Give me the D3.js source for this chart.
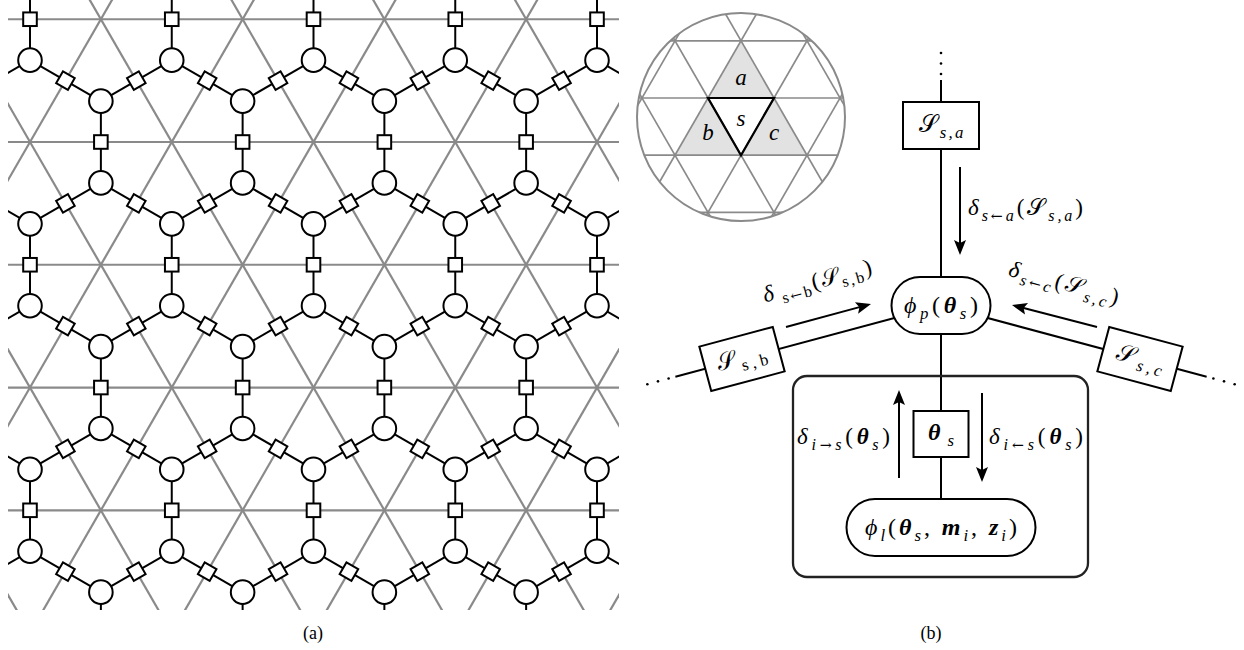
<!DOCTYPE html>
<html>
<head>
<meta charset="utf-8">
<script src="https://cdn.jsdelivr.net/npm/d3@7"></script>
<style>
  html, body { margin: 0; padding: 0; background: #fff; }
  svg { display: block; }
  text { font-family: "Liberation Serif", "DejaVu Serif", serif; fill: #000; }
</style>
</head>
<body>
<script>
// ---- data -------------------------------------------------------------
// (a) triangular lattice: row / column indices of the lattice points
const latticeRows = d3.range(-3, 7);
const latticeCols = d3.range(-7, 9);
// (b) inset: shaded neighbour faces and the central face
const neighbourFaces = ["a", "b", "c"];
const centreFace = "s";
// panel captions
const panelCaptions = ["(a)", "(b)"];
// math labels: [text, flags]  i = italic, b = bold, s = subscript, a = arrow glyph
const labelSa   = [["\u{1D4AE}", ""], ["s,a", "is"]];
const labelSb   = [["\u{1D4AE}", ""], ["s,b", "s"]];
const labelSc   = [["\u{1D4AE}", ""], ["s,c", "is"]];
const labelPhiP = [["\u03D5", "i"], ["p", "is"], ["(", ""], ["\u03B8", "ib"], ["s", "is"], [")", ""]];
const labelTheta = [["\u03B8", "ib"], ["s", "is"]];
const labelPhiL = [["\u03D5", "i"], ["l", "is"], ["(", ""], ["\u03B8", "ib"], ["s", "is"], [", ", ""],
                   ["m", "ib"], ["i", "is"], [", ", ""], ["z", "ib"], ["i", "is"], [")", ""]];
const msgA = [["\u03B4", "i"], ["s", "is"], ["\u2190", "sa"], ["a", "is"], ["(", ""], ["\u{1D4AE}", ""], ["s,a", "is"], [")", ""]];
const msgB = [["\u03B4", "i"], ["\u2009s", "s"], ["\u2190", "sa"], ["b", "s"], ["(", ""], ["\u{1D4AE}", ""], ["s,b", "s"], [")", ""]];
const msgC = [["\u03B4", "i"], ["s", "is"], ["\u2190", "sa"], ["c", "is"], ["(", ""], ["\u{1D4AE}", ""], ["s,c", "is"], [")", ""]];
const msgUp   = [["\u03B4", "i"], ["i", "is"], ["\u2192", "sa"], ["s", "is"], ["(", ""], ["\u03B8", "ib"], ["s", "is"], [")", ""]];
const msgDown = [["\u03B4", "i"], ["i", "is"], ["\u2190", "sa"], ["s", "is"], ["(", ""], ["\u03B8", "ib"], ["s", "is"], [")", ""]];

// ---- helpers ----------------------------------------------------------
const GRAY = "#8a8a8a";
const svg = d3.select("body").append("svg").attr("width", 1244).attr("height", 650);
const defs = svg.append("defs");

// writes a formula as tspans; `width` stretches it to a set run length
function mathText(g, parts, size, anchor, width) {
  const t = g.append("text").attr("text-anchor", anchor || "middle").style("font-size", size + "px");
  let shift = 0;
  parts.forEach(([str, flags]) => {
    const sub = flags.includes("s");
    const target = sub ? size * 0.25 : 0;
    const ts = t.append("tspan").text(str)
      .attr("dy", (target - shift).toFixed(2))
      .style("font-size", (sub ? size * 0.7 : size) + "px")
      .style("font-style", flags.includes("i") ? "italic" : "normal")
      .style("font-weight", flags.includes("b") ? "bold" : "normal");
    if (flags.includes("a")) ts.style("font-family", "'DejaVu Serif'").style("font-size", (size * 0.62) + "px");
    shift = target;
  });
  if (width) t.attr("textLength", width).attr("lengthAdjust", "spacing");
  return t;
}

function arrow(g, x0, y0, x1, y1) {
  const dx = x1 - x0, dy = y1 - y0, len = Math.hypot(dx, dy);
  const ux = dx / len, uy = dy / len, px = -uy, py = ux;
  const L = 15, W = 6;
  g.append("line").attr("x1", x0).attr("y1", y0)
    .attr("x2", x1 - ux * 10).attr("y2", y1 - uy * 10)
    .attr("stroke", "#000").attr("stroke-width", 2);
  const p = [
    [x1, y1],
    [x1 - ux * L + px * W, y1 - uy * L + py * W],
    [x1 - ux * (L - 3), y1 - uy * (L - 3)],
    [x1 - ux * L - px * W, y1 - uy * L - py * W]
  ];
  g.append("path").attr("d", "M" + p.map(q => q.join(",")).join("L") + "Z").attr("fill", "#000");
}

// ---- panel (a): honeycomb factor graph on a triangular lattice -------
const ax = d3.scaleLinear().domain([0, 4]).range([30, 597]);
const ay = d3.scaleLinear().domain([0, 3]).range([142, 510.3]);
defs.append("clipPath").attr("id", "clipA").append("rect")
  .attr("x", 8).attr("y", 0).attr("width", 611).attr("height", 610);
const gA = svg.append("g").attr("clip-path", "url(#clipA)");

const jMin = d3.min(latticeRows), jMax = d3.max(latticeRows);
const grayA = gA.append("g").attr("stroke", GRAY).attr("stroke-width", 2.2);
latticeRows.forEach(j => grayA.append("line")
  .attr("x1", ax(-2)).attr("x2", ax(6)).attr("y1", ay(j)).attr("y2", ay(j)));
d3.range(-10, 14).forEach(i => {
  grayA.append("line").attr("x1", ax(i + jMin / 2)).attr("y1", ay(jMin))
    .attr("x2", ax(i + jMax / 2)).attr("y2", ay(jMax));
  grayA.append("line").attr("x1", ax(i - jMin / 2)).attr("y1", ay(jMin))
    .attr("x2", ax(i - jMax / 2)).attr("y2", ay(jMax));
});

const centroids = [], edges = [];
latticeRows.forEach(j => latticeCols.forEach(i => {
  const down = [i + j / 2 + 0.5, j + 1 / 3];
  const up = [i + j / 2 + 1, j + 2 / 3];
  const upAbove = [i + j / 2 + 0.5, j - 1 / 3];
  const downRight = [i + j / 2 + 1.5, j + 1 / 3];
  centroids.push(down, up);
  edges.push([down, upAbove], [down, up], [up, downRight]);
}));
const px = q => [ax(q[0]), ay(q[1])];

const blackA = gA.append("g");
edges.forEach(([a, b]) => {
  const [x1, y1] = px(a), [x2, y2] = px(b);
  blackA.append("line").attr("x1", x1).attr("y1", y1).attr("x2", x2).attr("y2", y2)
    .attr("stroke", "#000").attr("stroke-width", 2);
});
edges.forEach(([a, b]) => {
  const [x1, y1] = px(a), [x2, y2] = px(b);
  const ang = Math.atan2(y2 - y1, x2 - x1) * 180 / Math.PI;
  blackA.append("rect").attr("x", -6.8).attr("y", -6.8).attr("width", 13.6).attr("height", 13.6)
    .attr("transform", `translate(${(x1 + x2) / 2},${(y1 + y2) / 2}) rotate(${ang})`)
    .attr("fill", "#fff").attr("stroke", "#000").attr("stroke-width", 2);
});
centroids.forEach(c => {
  const [x, y] = px(c);
  blackA.append("circle").attr("cx", x).attr("cy", y).attr("r", 11.8)
    .attr("fill", "#fff").attr("stroke", "#000").attr("stroke-width", 2);
});

// ---- panel (b) inset: neighbourhood of face s -------------------------
const bx = d3.scaleLinear().domain([0, 1]).range([708, 774]);
const by = d3.scaleLinear().domain([0, 1]).range([98, 155.2]);
const ip = (i, j) => [bx(i + j / 2), by(j)];
const faceTri = {
  s: [ip(0, 0), ip(1, 0), ip(0, 1)],
  a: [ip(0, 0), ip(1, 0), ip(1, -1)],
  b: [ip(-1, 1), ip(0, 1), ip(0, 0)],
  c: [ip(0, 1), ip(1, 1), ip(1, 0)]
};
const cen = tri => [d3.mean(tri, p => p[0]), d3.mean(tri, p => p[1])];
const [icx, icy] = cen(faceTri[centreFace]);
const R = 104;
defs.append("clipPath").attr("id", "clipInset").append("circle").attr("cx", icx).attr("cy", icy).attr("r", R);
const gI = svg.append("g").attr("clip-path", "url(#clipInset)");
neighbourFaces.forEach(f => gI.append("path")
  .attr("d", "M" + faceTri[f].map(p => p.join(",")).join("L") + "Z").attr("fill", "#e2e2e2"));
const gIl = gI.append("g").attr("stroke", GRAY).attr("stroke-width", 1.7);
d3.range(-3, 4).forEach(j => gIl.append("line")
  .attr("x1", bx(-5)).attr("x2", bx(6)).attr("y1", by(j)).attr("y2", by(j)));
d3.range(-6, 8).forEach(i => {
  gIl.append("line").attr("x1", bx(i - 2)).attr("y1", by(-4)).attr("x2", bx(i + 2)).attr("y2", by(4));
  gIl.append("line").attr("x1", bx(i + 2)).attr("y1", by(-4)).attr("x2", bx(i - 2)).attr("y2", by(4));
});
svg.append("path").attr("d", "M" + faceTri[centreFace].map(p => p.join(",")).join("L") + "Z")
  .attr("fill", "none").attr("stroke", "#000").attr("stroke-width", 2.2).attr("stroke-linejoin", "miter");
svg.append("circle").attr("cx", icx).attr("cy", icy).attr("r", R)
  .attr("fill", "none").attr("stroke", GRAY).attr("stroke-width", 2);
const faceBase = { a: 6, s: 9, b: 4, c: 4 };
[centreFace].concat(neighbourFaces).forEach(f => {
  const [x, y] = cen(faceTri[f]);
  svg.append("text").attr("x", x).attr("y", y + faceBase[f]).attr("text-anchor", "middle")
    .style("font-size", "23px").style("font-style", "italic").text(f);
});

// ---- panel (b): factor graph around one face --------------------------
const gB = svg.append("g");
const CX = 941, PY = 305.5;
const tilt = 15 * Math.PI / 180;
const edgeLine = (sx, len) => [CX + sx * len * Math.cos(tilt), PY + len * Math.sin(tilt)];

// edges
gB.append("line").attr("x1", CX).attr("y1", 80).attr("x2", CX).attr("y2", 527)
  .attr("stroke", "#000").attr("stroke-width", 2);
[-1, 1].forEach(sx => {
  const [ex, ey] = edgeLine(sx, 275);
  gB.append("line").attr("x1", CX).attr("y1", PY).attr("x2", ex).attr("y2", ey)
    .attr("stroke", "#000").attr("stroke-width", 2);
  [282, 293, 304].forEach(d => {
    const [dx, dy] = edgeLine(sx, d);
    gB.append("circle").attr("cx", dx).attr("cy", dy).attr("r", 1.3).attr("fill", "#000");
  });
});
[53, 63.5, 74].forEach(y => gB.append("circle").attr("cx", CX).attr("cy", y).attr("r", 1.3).attr("fill", "#000"));

// plate
gB.append("rect").attr("x", 793).attr("y", 376).attr("width", 295).attr("height", 201).attr("rx", 14)
  .attr("fill", "none").attr("stroke", "#222").attr("stroke-width", 2.3);

// factor boxes
function box(cx, cy, w, h, ang, label, tw) {
  const g = gB.append("g").attr("transform", `translate(${cx},${cy}) rotate(${ang})`);
  g.append("rect").attr("x", -w / 2).attr("y", -h / 2).attr("width", w).attr("height", h)
    .attr("fill", "#fff").attr("stroke", "#000").attr("stroke-width", 2);
  mathText(g, label, 24, "middle", tw).attr("y", 6);
}
box(CX, 125.5, 76, 47, 0, labelSa, 45);
box(742, 359, 76, 46, -15, labelSb, 50);
box(1140, 359, 76, 46, 15, labelSc, 48);
box(CX, 434, 55, 46, 0, labelTheta, 26);

// potential nodes
function node(cx, cy, w, h, label, tw) {
  gB.append("rect").attr("x", cx - w / 2).attr("y", cy - h / 2).attr("width", w).attr("height", h)
    .attr("rx", h / 2).attr("fill", "#fff").attr("stroke", "#000").attr("stroke-width", 2);
  mathText(gB, label, 24, "middle", tw).attr("x", cx).attr("y", cy + 7);
}
node(CX, PY, 99, 57, labelPhiP, 74);
node(CX, 527.5, 189, 57, labelPhiL, 152);

// messages
arrow(gB, 960, 167, 960, 255);
mathText(gB, msgA, 23, "start", 115).attr("x", 968).attr("y", 215);
arrow(gB, 786, 327, 871, 304);
mathText(gB.append("g").attr("transform", "translate(819,288) rotate(-15)"), msgB, 23, "middle", 112);
arrow(gB, 1097, 327, 1012, 305);
mathText(gB.append("g").attr("transform", "translate(1062,290) rotate(15)"), msgC, 23, "middle", 113);
arrow(gB, 899, 478, 899, 390);
mathText(gB, msgUp, 23, "start", 93).attr("x", 797).attr("y", 444);
arrow(gB, 982, 393, 982, 482);
mathText(gB, msgDown, 23, "start", 94).attr("x", 989).attr("y", 444);

// captions
svg.append("text").attr("x", 313).attr("y", 639).attr("text-anchor", "middle").style("font-size", "18px").text(panelCaptions[0]);
svg.append("text").attr("x", 931).attr("y", 639).attr("text-anchor", "middle").style("font-size", "18px").text(panelCaptions[1]);
</script>
</body>
</html>
